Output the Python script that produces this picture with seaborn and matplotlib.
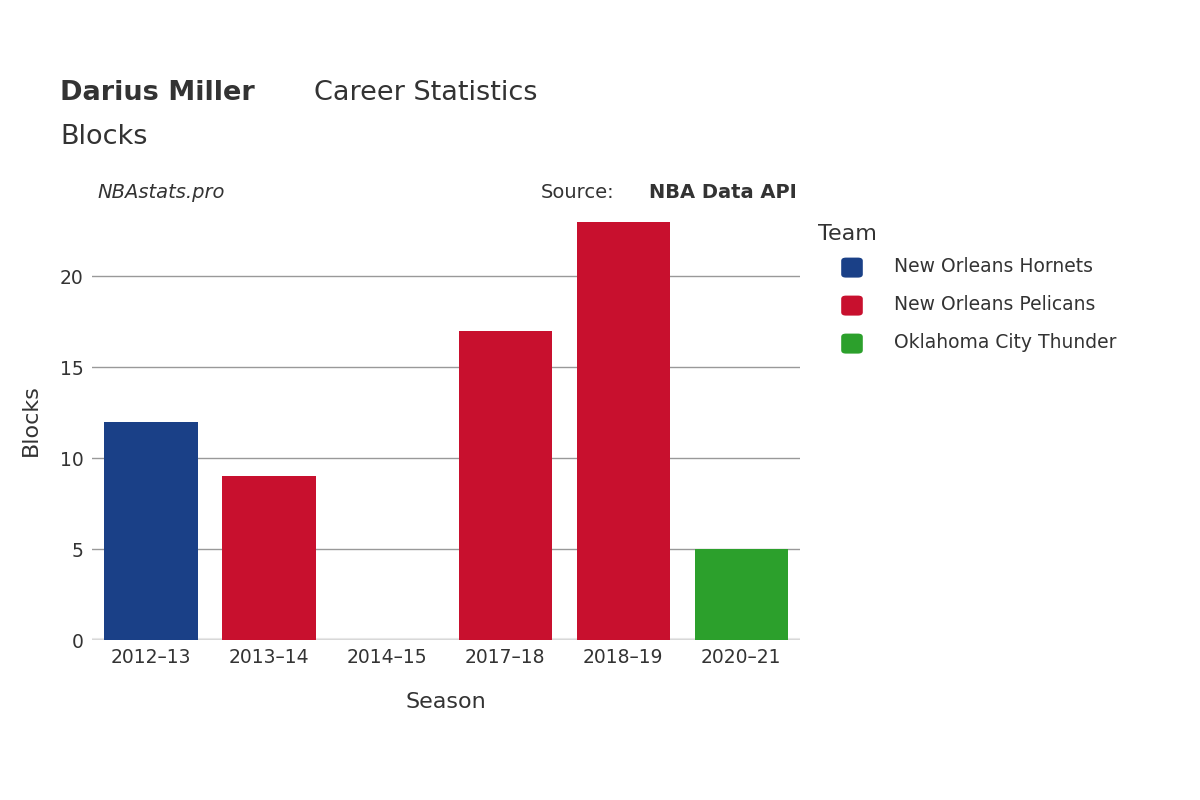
import matplotlib
matplotlib.use("Agg")
import matplotlib.pyplot as plt
import seaborn as sns
import pandas as pd
from matplotlib.lines import Line2D

seasons = ["2012–13", "2013–14", "2014–15", "2017–18", "2018–19", "2020–21"]
blocks = [12, 9, 0, 17, 23, 5]
teams = ["New Orleans Hornets", "New Orleans Pelicans", "New Orleans Pelicans",
         "New Orleans Pelicans", "New Orleans Pelicans", "Oklahoma City Thunder"]
team_order = ["New Orleans Hornets", "New Orleans Pelicans", "Oklahoma City Thunder"]
team_colors = ["#1a4087", "#c8102e", "#2ca02c"]

df = pd.DataFrame({"Season": seasons, "Blocks": blocks, "Team": teams})
palette = dict(zip(team_order, team_colors))

plt.rcParams["font.family"] = "DejaVu Sans"
fig = plt.figure(figsize=(12, 8), dpi=100)
ax = fig.add_axes([0.0767, 0.2, 0.5903, 0.55])
sns.barplot(data=df, x="Season", y="Blocks", hue="Team", hue_order=team_order,
            palette=palette, dodge=False, width=0.79, ax=ax, legend=False,
            saturation=1)
ax.set_ylim(0, 24.2)
ax.set_xlim(-0.5, 5.5)
ax.set_yticks([0, 5, 10, 15, 20])
ax.grid(axis="y", color="#999999", linewidth=1)
ax.set_axisbelow(True)
for s in ax.spines.values():
    s.set_visible(False)
ax.axhline(0, color="#e8e8e8", linewidth=3, zorder=0.5)
ax.tick_params(axis="both", length=0, labelsize=13.5, colors="#333333", pad=6)
ax.set_xlabel("Season", fontsize=16, color="#333333", labelpad=18)
ax.set_ylabel("Blocks", fontsize=16, color="#333333", labelpad=14)

fig.text(0.05, 0.875, "Darius Miller", fontsize=19.5, fontweight="bold", color="#333333", va="baseline")
fig.text(0.262, 0.875, "Career Statistics", fontsize=19.5, color="#333333", va="baseline")
fig.text(0.05, 0.82, "Blocks", fontsize=19.5, color="#333333", va="baseline")
fig.text(0.081, 0.752, "NBAstats.pro", fontsize=14, style="italic", color="#333333", va="baseline")
fig.text(0.664, 0.752, "Source: ", fontsize=14, color="#333333", va="baseline", ha="right",
         transform=fig.transFigure)
fig.text(0.664, 0.752, "", fontsize=14)
t = fig.text(0.512, 0.752, "Source: ", fontsize=14, color="#333333", va="baseline")
t.set_visible(False)
fig.texts[-3].set_visible(False)
fig.text(0.664, 0.752, "NBA Data API", fontsize=14, fontweight="bold", color="#333333",
         va="baseline", ha="right")
fig.text(0.512, 0.752, "Source:", fontsize=14, color="#333333", va="baseline", ha="right")

fig.text(0.682, 0.708, "Team", fontsize=16, color="#333333", va="center")
for i, (name, col) in enumerate(zip(team_order, team_colors)):
    y = 0.667 - i * 0.0475
    fig.patches.append(matplotlib.patches.FancyBboxPatch(
        (0.703, y - 0.012), 0.014, 0.021, boxstyle="round,pad=0.002,rounding_size=0.004",
        transform=fig.transFigure, facecolor=col, edgecolor="none"))
    fig.text(0.745, y, name, fontsize=13.5, color="#333333", va="center")

fig.savefig("out.png", dpi=100, facecolor="white")
